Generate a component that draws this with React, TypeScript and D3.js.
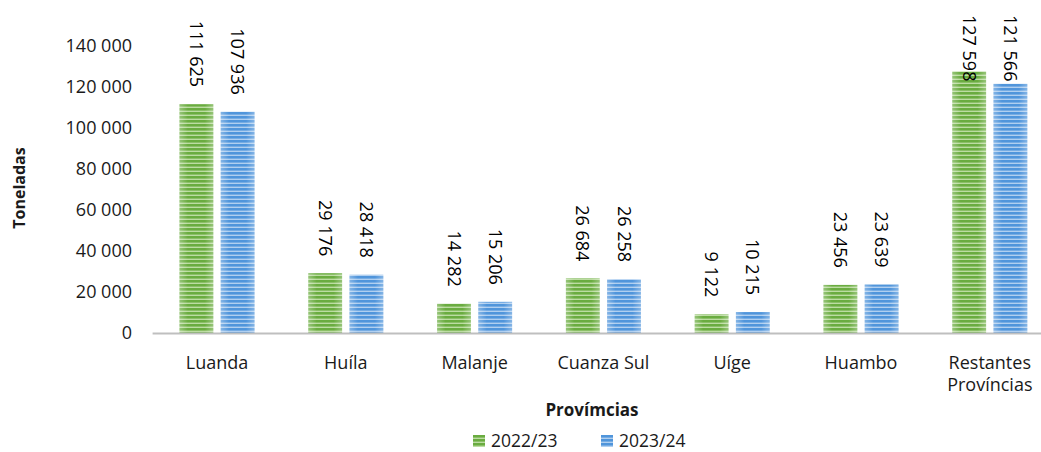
import { useEffect, useRef } from 'react';
import * as d3 from 'd3';

const provinces = ['Luanda', 'Huíla', 'Malanje', 'Cuanza Sul', 'Uíge', 'Huambo', 'Restantes Províncias'];
const seasons = ['2022/23', '2023/24'];
const values2223 = [111625, 29176, 14282, 26684, 9122, 23456, 127598];
const values2324 = [107936, 28418, 15206, 26258, 10215, 23639, 121566];
const yTicks = [0, 20000, 40000, 60000, 80000, 100000, 120000, 140000];

const App = () => {
  const chartRef = useRef<SVGSVGElement>(null);

  useEffect(() => {
    if (!chartRef.current) return;
    document.body.style.margin = '0';

    const svg = d3.select(chartRef.current);
    svg.selectAll('*').remove();

    const width = 1041;
    const height = 452;
    const font = '"Open Sans", sans-serif';
    const textColor = '#1a1a1a';

    const locale = d3.formatLocale({ decimal: ',', thousands: ' ', grouping: [3], currency: ['', ''] });
    const fmt = locale.format(',d');

    svg.attr('width', width).attr('height', height).style('font-family', font);

    // stripe patterns for the bars
    const defs = svg.append('defs');
    const palette = [
      { id: 'stripe-green', dark: '#6aac40', light: '#bcdca2' },
      { id: 'stripe-blue', dark: '#5095db', light: '#b0cff0' },
    ];
    palette.forEach((p) => {
      const pat = defs
        .append('pattern')
        .attr('id', p.id)
        .attr('patternUnits', 'userSpaceOnUse')
        .attr('width', 8)
        .attr('height', 4);
      pat.append('rect').attr('width', 8).attr('height', 4).attr('fill', p.dark);
      pat.append('rect').attr('y', 2.6).attr('width', 8).attr('height', 1.4).attr('fill', p.light);
    });
    const shade = defs.append('linearGradient').attr('id', 'edge-shade').attr('x1', 0).attr('x2', 1).attr('y1', 0).attr('y2', 0);
    shade.append('stop').attr('offset', '0%').attr('stop-color', '#fff').attr('stop-opacity', 0.3);
    shade.append('stop').attr('offset', '25%').attr('stop-color', '#fff').attr('stop-opacity', 0);
    shade.append('stop').attr('offset', '75%').attr('stop-color', '#fff').attr('stop-opacity', 0);
    shade.append('stop').attr('offset', '100%').attr('stop-color', '#fff').attr('stop-opacity', 0.3);

    const fills: Record<string, string> = {
      '2022/23': 'url(#stripe-green)',
      '2023/24': 'url(#stripe-blue)',
    };

    const y = d3.scaleLinear().domain([0, 140000]).range([333, 46]);
    const x0 = d3.scaleBand<string>().domain(provinces).range([152.6, 1054.2]).padding(0);
    const x1 = d3.scaleBand<string>().domain(seasons).range([-37.5, 37.5]).paddingInner(0.18);

    const rows = provinces.map((p, i) => ({
      province: p,
      items: [
        { season: seasons[0], value: values2223[i] },
        { season: seasons[1], value: values2324[i] },
      ],
    }));

    // y tick labels (no axis line, no grid)
    svg
      .append('g')
      .selectAll('text')
      .data(yTicks)
      .join('text')
      .attr('x', 132)
      .attr('y', (d) => y(d))
      .attr('dy', '0.35em')
      .attr('text-anchor', 'end')
      .attr('font-size', 18)
      .attr('fill', textColor)
      .text((d) => fmt(d));

    // bars
    const groups = svg
      .append('g')
      .selectAll('g')
      .data(rows)
      .join('g')
      .attr('transform', (d) => `translate(${(x0(d.province) ?? 0) + x0.bandwidth() / 2},0)`);

    groups
      .selectAll('rect.bar')
      .data((d) => d.items)
      .join('rect')
      .attr('class', 'bar')
      .attr('x', (d) => x1(d.season) ?? 0)
      .attr('y', (d) => y(d.value))
      .attr('width', x1.bandwidth())
      .attr('height', (d) => y(0) - y(d.value))
      .attr('fill', (d) => fills[d.season]);

    groups
      .selectAll('rect.shade')
      .data((d) => d.items)
      .join('rect')
      .attr('class', 'shade')
      .attr('x', (d) => x1(d.season) ?? 0)
      .attr('y', (d) => y(d.value))
      .attr('width', x1.bandwidth())
      .attr('height', (d) => y(0) - y(d.value))
      .attr('fill', 'url(#edge-shade)');

    // rotated value labels, reading top to bottom
    groups
      .selectAll('text.val')
      .data((d) => d.items)
      .join('text')
      .attr('class', 'val')
      .attr('font-size', 18)
      .attr('fill', '#000')
      .attr('dy', '0.35em')
      .text((d) => fmt(d.value))
      .each(function (d) {
        const node = this as SVGTextElement;
        const len = node.getComputedTextLength();
        const top = Math.max(15, y(d.value) - 17 - len);
        const cx = (x1(d.season) ?? 0) + x1.bandwidth() / 2;
        d3.select(node).attr('transform', `translate(${cx},${top}) rotate(90)`);
      });

    // category axis line
    svg
      .append('line')
      .attr('x1', 152.6)
      .attr('x2', width)
      .attr('y1', y(0) + 0.5)
      .attr('y2', y(0) + 0.5)
      .attr('stroke', '#bfbfbf')
      .attr('stroke-width', 2);

    // category labels, wrapped when wider than the band
    const catLabels = svg
      .append('g')
      .selectAll('text')
      .data(provinces)
      .join('text')
      .attr('x', (d) => (x0(d) ?? 0) + x0.bandwidth() / 2)
      .attr('y', 369)
      .attr('text-anchor', 'middle')
      .attr('font-size', 18)
      .attr('fill', textColor)
      .text((d) => d);
    catLabels.each(function (d) {
      const node = this as SVGTextElement;
      if (node.getComputedTextLength() < x0.bandwidth() - 10) return;
      const cx = (x0(d) ?? 0) + x0.bandwidth() / 2;
      const sel = d3.select(node).text(null);
      d.split(' ').forEach((w, i) => {
        sel
          .append('tspan')
          .attr('x', cx)
          .attr('dy', i === 0 ? 0 : 22)
          .text(w);
      });
    });

    // axis titles
    svg
      .append('text')
      .attr('x', 592)
      .attr('y', 416)
      .attr('text-anchor', 'middle')
      .attr('font-size', 17)
      .attr('font-weight', 'bold')
      .attr('fill', textColor)
      .text('Provímcias');

    svg
      .append('text')
      .attr('transform', 'translate(25,188) rotate(-90)')
      .attr('text-anchor', 'middle')
      .attr('font-size', 16)
      .attr('font-weight', 'bold')
      .attr('fill', textColor)
      .text('Toneladas');

    // legend
    const legendX = [473, 601];
    const legend = svg
      .append('g')
      .selectAll('g')
      .data(seasons)
      .join('g')
      .attr('transform', (_, i) => `translate(${legendX[i]},435)`);
    legend
      .append('rect')
      .attr('width', 12)
      .attr('height', 12)
      .attr('fill', (d) => fills[d]);
    legend
      .append('text')
      .attr('x', 18)
      .attr('y', 6)
      .attr('dy', '0.35em')
      .attr('font-size', 17.5)
      .attr('fill', textColor)
      .text((d) => d);
  }, []);

  return <svg ref={chartRef} />;
};

export default App;
